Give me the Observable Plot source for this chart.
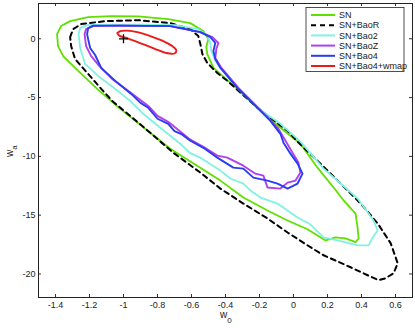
<!DOCTYPE html>
<html><head><meta charset="utf-8">
<script src="https://cdn.jsdelivr.net/npm/d3@7"></script>
<script src="https://cdn.jsdelivr.net/npm/@observablehq/plot@0.6"></script>
<style>body{margin:0;background:#fff} svg{display:block}</style>
</head><body><div id="chart"></div>
<script>
const seriesNames = ["SN","SN+BaoR","SN+Bao2","SN+BaoZ","SN+Bao4","SN+Bao4+wmap"];
const seriesColors = ["#5fe000","#000000","#80f2e2","#b040ec","#2a3cf2","#ee1a1a"];
const xTicks = [-1.4,-1.2,-1,-0.8,-0.6,-0.4,-0.2,0,0.2,0.4,0.6];
const yTicks = [-20,-15,-10,-5,0];
const fiducial = [[-1,0]];

const sn = [[-1.391,0.40],[-1.367,1.08],[-1.314,1.50],[-1.208,1.84],[-1.072,1.92],[-0.913,1.90],[-0.737,1.67],[-0.607,1.33],[-0.530,0.65],[-0.501,-0.03],[-0.513,-0.70],[-0.507,-1.30],[-0.471,-2.48],[-0.330,-4.26],[-0.212,-5.87],[-0.077,-7.57],[0.041,-8.92],[0.141,-10.96],[0.236,-12.65],[0.295,-13.75],[0.365,-14.86],[0.377,-16.05],[0.383,-16.98],[0.365,-17.29],[0.306,-16.98],[0.247,-16.89],[0.189,-17.15],[0.082,-16.20],[-0.035,-15.45],[-0.153,-14.60],[-0.295,-13.50],[-0.430,-12.06],[-0.548,-10.96],[-0.725,-9.35],[-0.843,-7.99],[-1.019,-5.96],[-1.155,-4.26],[-1.285,-2.48],[-1.355,-1.47],[-1.385,-0.62]];

const snBaoR = [[-1.314,0.14],[-1.296,0.82],[-1.249,1.25],[-1.108,1.50],[-0.913,1.58],[-0.725,1.33],[-0.607,0.82],[-0.560,0.23],[-0.548,-0.45],[-0.536,-1.30],[-0.507,-2.06],[-0.448,-2.91],[-0.389,-3.58],[-0.212,-5.87],[-0.136,-6.72],[-0.035,-7.82],[0.024,-8.75],[0.159,-10.62],[0.277,-12.31],[0.395,-14.01],[0.495,-15.70],[0.572,-17.40],[0.613,-19.09],[0.589,-19.94],[0.542,-20.36],[0.501,-20.53],[0.436,-20.11],[0.336,-19.43],[0.177,-18.41],[0.070,-17.45],[-0.035,-16.47],[-0.153,-15.28],[-0.295,-14.01],[-0.430,-12.74],[-0.548,-11.38],[-0.707,-9.69],[-0.843,-7.99],[-0.961,-6.55],[-1.061,-5.36],[-1.131,-4.26],[-1.208,-2.99],[-1.285,-1.72],[-1.308,-0.62]];

const snBao2 = [[-1.264,0.40],[-1.255,0.91],[-1.214,1.16],[-1.137,1.20],[-0.902,1.20],[-0.695,1.16],[-0.560,0.82],[-0.507,0.31],[-0.489,-0.36],[-0.483,-1.04],[-0.460,-1.89],[-0.330,-4.18],[-0.212,-5.87],[-0.077,-7.23],[0.041,-8.75],[0.177,-11.04],[0.277,-12.31],[0.377,-13.58],[0.471,-15.45],[0.495,-16.30],[0.466,-16.89],[0.442,-17.57],[0.377,-17.57],[0.259,-17.15],[0.177,-16.89],[0.100,-15.80],[0.024,-15.19],[-0.094,-14.01],[-0.194,-13.50],[-0.250,-12.95],[-0.295,-12.31],[-0.370,-11.90],[-0.430,-11.21],[-0.548,-10.11],[-0.610,-9.70],[-0.666,-8.92],[-0.784,-7.57],[-0.884,-6.38],[-0.961,-5.28],[-1.055,-4.18],[-1.149,-3.16],[-1.226,-2.14],[-1.255,-0.79]];

const snBaoZ = [[-1.229,0.40],[-1.220,0.82],[-1.178,1.08],[-1.019,1.12],[-0.725,1.08],[-0.548,0.57],[-0.477,0.14],[-0.442,-0.36],[-0.454,-0.87],[-0.460,-1.64],[-0.424,-2.48],[-0.324,-4.18],[-0.230,-5.54],[-0.136,-6.89],[-0.089,-7.65],[-0.047,-8.67],[-0.006,-9.69],[0.029,-10.53],[0.041,-11.38],[0.012,-12.06],[-0.035,-12.23],[-0.077,-12.74],[-0.153,-12.65],[-0.177,-11.64],[-0.224,-11.47],[-0.295,-10.79],[-0.389,-10.11],[-0.448,-9.94],[-0.530,-9.18],[-0.607,-8.58],[-0.737,-7.06],[-0.800,-6.55],[-0.854,-5.71],[-0.955,-4.61],[-1.067,-3.41],[-1.143,-2.31],[-1.190,-1.47],[-1.220,-0.62]];

const snBao4 = [[-1.214,0.40],[-1.208,0.91],[-1.178,1.12],[-1.019,1.12],[-0.725,1.08],[-0.548,0.57],[-0.489,0.14],[-0.460,-0.36],[-0.471,-1.04],[-0.460,-1.72],[-0.430,-2.48],[-0.330,-4.18],[-0.236,-5.54],[-0.136,-6.98],[-0.077,-8.08],[-0.059,-8.84],[-0.018,-9.77],[0.024,-10.62],[0.053,-11.47],[0.024,-12.31],[-0.035,-12.74],[-0.094,-12.31],[-0.153,-12.06],[-0.236,-11.81],[-0.295,-11.04],[-0.354,-10.96],[-0.448,-10.11],[-0.530,-9.27],[-0.607,-8.67],[-0.660,-8.10],[-0.700,-7.85],[-0.737,-7.23],[-0.800,-6.80],[-0.854,-5.87],[-0.900,-5.45],[-0.955,-4.69],[-1.049,-3.58],[-1.131,-2.48],[-1.167,-1.38],[-1.196,-0.79],[-1.208,-0.03]];

const snBao4wmap = [[-1.037,0.48],[-1.019,0.65],[-0.978,0.69],[-0.919,0.57],[-0.843,0.23],[-0.766,-0.19],[-0.713,-0.62],[-0.689,-1.00],[-0.701,-1.25],[-0.748,-1.21],[-0.819,-0.83],[-0.902,-0.36],[-0.972,0.02],[-1.025,0.27]];

const contours = [sn, snBaoR, snBao2, snBaoZ, snBao4, snBao4wmap];
const rows = contours.flatMap((pts, i) =>
  [...pts, pts[0]].map(([w0, wa]) => ({w0, wa, series: seriesNames[i]})));

const W = 415, H = 328, mL = 38, mR = 3, mT = 3, mB = 31;
const pw = W - mL - mR, ph = H - mT - mB;
const font = "'Liberation Sans', Arial, sans-serif";
const styles = [
  {strokeWidth: 1.8},
  {strokeWidth: 2, strokeDasharray: "5,4"},
  {strokeWidth: 1.8},
  {strokeWidth: 1.9},
  {strokeWidth: 1.9},
  {strokeWidth: 1.9}
];

const plot = Plot.plot({
  width: W, height: H,
  marginLeft: mL, marginRight: mR, marginTop: mT, marginBottom: mB,
  style: {fontFamily: font, fontSize: "9px", background: "#fff", color: "#222"},
  x: {domain: [-1.5, 0.7]},
  y: {domain: [-22, 3]},
  marks: [
    ...seriesNames.map((name, i) => Plot.line(rows.filter(d => d.series === name), {
      x: "w0", y: "wa", stroke: seriesColors[i], curve: i === 5 ? "catmull-rom-closed" : "linear",
      strokeLinejoin: "round", ...styles[i]
    })),
    Plot.dot(fiducial, {x: d => d[0], y: d => d[1], symbol: "plus", r: 3, stroke: "#000", strokeWidth: 1.3}),
    Plot.tickX(xTicks, {x: d => d, insetTop: ph - 3, stroke: "#333"}),
    Plot.tickX(xTicks, {x: d => d, insetBottom: ph - 3, stroke: "#333"}),
    Plot.tickY(yTicks, {y: d => d, insetRight: pw - 3, stroke: "#333"}),
    Plot.tickY(yTicks, {y: d => d, insetLeft: pw - 3, stroke: "#333"}),
    Plot.axisX(xTicks, {anchor: "bottom", tickSize: 0, tickPadding: 4, tickFormat: d => String(d), label: null, fontSize: 9}),
    Plot.axisY(yTicks, {anchor: "left", tickSize: 0, tickPadding: 3, tickFormat: d => String(d), label: null, fontSize: 9}),
    Plot.frame({stroke: "#222", strokeWidth: 1})
  ]
});
document.getElementById("chart").appendChild(plot);

const svg = d3.select(plot);
// axis labels
const xl = svg.append("text").attr("x", 220).attr("y", 318).attr("text-anchor", "start")
  .attr("font-family", font).attr("font-size", 10).attr("fill", "#222");
xl.append("tspan").text("w");
xl.append("tspan").attr("dy", 5).attr("font-size", 8).text("0");
const yl = svg.append("text").attr("transform", "translate(13,157) rotate(-90)").attr("text-anchor", "start")
  .attr("font-family", font).attr("font-size", 10).attr("fill", "#222");
yl.append("tspan").text("w");
yl.append("tspan").attr("dy", 4).attr("font-size", 8).text("a");

// legend
const lg = svg.append("g").attr("text-anchor", "start");
lg.append("rect").attr("x", 306).attr("y", 7.5).attr("width", 98).attr("height", 64)
  .attr("fill", "#fff").attr("stroke", "#222").attr("stroke-width", 0.8);
seriesNames.forEach((name, i) => {
  const y = 15 + i * 10.2;
  lg.append("line").attr("x1", 311).attr("x2", 335).attr("y1", y).attr("y2", y)
    .attr("stroke", seriesColors[i]).attr("stroke-width", 2)
    .attr("stroke-dasharray", styles[i].strokeDasharray || null);
  lg.append("text").attr("x", 339).attr("y", y).attr("dy", "0.35em").attr("text-anchor", "start")
    .attr("font-family", font).attr("font-size", 9).attr("fill", "#222").text(name);
});
</script></body></html>
